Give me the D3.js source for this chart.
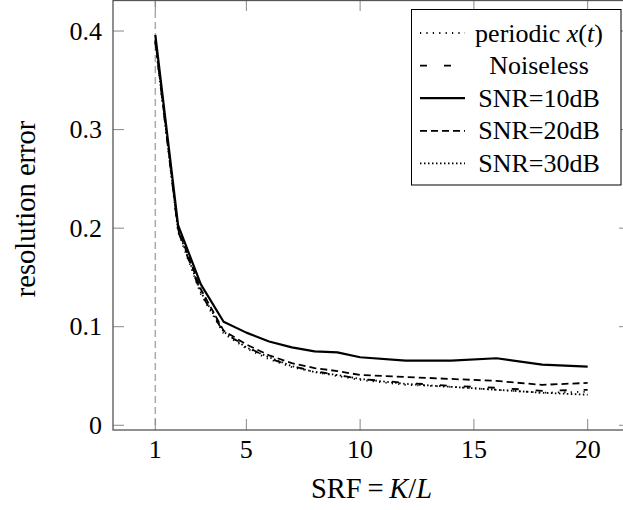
<!DOCTYPE html>
<html>
<head>
<meta charset="utf-8">
<script src="https://cdn.jsdelivr.net/npm/d3@7"></script>
<style>
  body { margin: 0; background: #fff; }
</style>
</head>
<body>
<svg id="chart" width="623" height="510"></svg>
<script>
// SRF values where the curves were sampled
var srf = [1, 2, 3, 4, 5, 6, 7, 8, 9, 10, 12, 14, 16, 18, 20];

// resolution error for each setting
var periodic  = [0.388, 0.196, 0.133, 0.093, 0.078, 0.067, 0.059, 0.054, 0.050, 0.046, 0.041, 0.039, 0.036, 0.033, 0.034];
var noiseless = [0.389, 0.197, 0.134, 0.094, 0.080, 0.068, 0.060, 0.055, 0.051, 0.047, 0.043, 0.040, 0.038, 0.035, 0.036];
var snr10     = [0.396, 0.203, 0.143, 0.105, 0.094, 0.085, 0.079, 0.075, 0.074, 0.069, 0.0655, 0.0655, 0.068, 0.0615, 0.0595];
var snr20     = [0.391, 0.199, 0.138, 0.096, 0.082, 0.071, 0.063, 0.058, 0.055, 0.051, 0.049, 0.047, 0.045, 0.041, 0.043];
var snr30     = [0.390, 0.198, 0.135, 0.095, 0.079, 0.069, 0.060, 0.054, 0.051, 0.047, 0.042, 0.039, 0.036, 0.033, 0.031];

var xTicks = [1, 5, 10, 15, 20];
var yTicks = [0, 0.1, 0.2, 0.3, 0.4];

var series = [
  { name: "periodic", values: periodic,  dash: "1.2,5.2", width: 1.8 },
  { name: "Noiseless", values: noiseless, dash: "7,17",   width: 1.8 },
  { name: "SNR=10dB", values: snr10,     dash: null,      width: 2.2 },
  { name: "SNR=20dB", values: snr20,     dash: "7,4",     width: 1.8 },
  { name: "SNR=30dB", values: snr30,     dash: "1.5,2.5", width: 1.8 }
];

var margin = { top: 0, left: 113 };
var plotRight = 630, plotBottom = 430;
var fontSize = 26, labelSize = 28.5;
var serif = "'Liberation Serif'";

var svg = d3.select("svg#chart");

var x = d3.scaleLinear().domain([-0.86, 21.86]).range([margin.left, plotRight]);
var y = d3.scaleLinear().domain([-0.0048, 0.4315]).range([plotBottom, margin.top]);

// reference line at SRF = 1
svg.append("line")
  .attr("x1", x(1)).attr("x2", x(1))
  .attr("y1", y.range()[1]).attr("y2", y.range()[0])
  .attr("stroke", "#aaa")
  .attr("stroke-width", 1.5)
  .attr("stroke-dasharray", "7,4");

// inward ticks on all four sides
var tickLen = 11;
var ticks = svg.append("g").attr("stroke", "#888").attr("stroke-width", 1);
xTicks.forEach(function(t) {
  ticks.append("line").attr("x1", x(t)).attr("x2", x(t)).attr("y1", plotBottom).attr("y2", plotBottom - tickLen);
  ticks.append("line").attr("x1", x(t)).attr("x2", x(t)).attr("y1", 0).attr("y2", tickLen);
});
yTicks.forEach(function(t) {
  ticks.append("line").attr("x1", margin.left).attr("x2", margin.left + tickLen).attr("y1", y(t)).attr("y2", y(t));
  ticks.append("line").attr("x1", plotRight).attr("x2", plotRight - tickLen).attr("y1", y(t)).attr("y2", y(t));
});

// tick labels
svg.append("g")
  .selectAll("text")
  .data(xTicks)
  .join("text")
    .style("font-family", serif)
    .attr("font-size", fontSize)
    .attr("text-anchor", "middle")
    .attr("x", d => x(d))
    .attr("y", plotBottom + 28)
    .text(d => d);

svg.append("g")
  .selectAll("text")
  .data(yTicks)
  .join("text")
    .style("font-family", serif)
    .attr("font-size", fontSize)
    .attr("text-anchor", "end")
    .attr("x", margin.left - 11)
    .attr("y", d => y(d))
    .attr("dy", "0.33em")
    .text(d => d === 0 ? "0" : d.toFixed(1));

// curves
var line = d3.line()
  .x((d, i) => x(srf[i]))
  .y(d => y(d));

svg.append("g")
  .attr("fill", "none")
  .selectAll("path")
  .data(series)
  .join("path")
    .attr("d", d => line(d.values))
    .attr("stroke", "#000")
    .attr("stroke-width", d => d.width)
    .attr("stroke-dasharray", d => d.dash)
    .attr("stroke-linejoin", "round");

// frame
svg.append("rect")
  .attr("x", margin.left)
  .attr("y", 0.5)
  .attr("width", plotRight - margin.left)
  .attr("height", plotBottom - 0.5)
  .attr("fill", "none")
  .attr("stroke", "#555")
  .attr("stroke-width", 1.3);

// axis labels
svg.append("text")
  .style("font-family", serif)
  .attr("font-size", labelSize)
  .attr("text-anchor", "middle")
  .attr("transform", "translate(35,209) rotate(-90)")
  .text("resolution error");

var xl = svg.append("text")
  .style("font-family", serif)
  .attr("font-size", labelSize)
  .attr("text-anchor", "middle")
  .attr("x", (margin.left + plotRight) / 2)
  .attr("y", 498);
xl.append("tspan").text("SRF\u2009=\u2009");
xl.append("tspan").attr("font-style", "italic").text("K");
xl.append("tspan").text("/");
xl.append("tspan").attr("font-style", "italic").text("L");

// legend
var legend = svg.append("g");
legend.append("rect")
  .attr("x", 411.5).attr("y", 9.5)
  .attr("width", 209.5).attr("height", 175.5)
  .attr("fill", "#fff")
  .attr("stroke", "#000")
  .attr("stroke-width", 1);

var rows = legend.selectAll("g.row")
  .data(series)
  .join("g")
    .attr("class", "row")
    .attr("transform", (d, i) => "translate(0," + (33 + i * 32.6) + ")");

rows.append("line")
  .attr("x1", 420).attr("x2", 465)
  .attr("y1", 0).attr("y2", 0)
  .attr("stroke", "#000")
  .attr("stroke-width", d => d.width)
  .attr("stroke-dasharray", d => d.dash);

var labels = rows.append("text")
  .style("font-family", serif)
  .attr("x", 539)
  .attr("y", 0)
  .attr("dy", "0.33em")
  .attr("font-size", fontSize)
  .attr("text-anchor", "middle");

labels.each(function(d) {
  var t = d3.select(this);
  if (d.name === "periodic") {
    t.append("tspan").text("periodic ");
    t.append("tspan").attr("font-style", "italic").text("x");
    t.append("tspan").text("(");
    t.append("tspan").attr("font-style", "italic").text("t");
    t.append("tspan").text(")");
  } else {
    t.text(d.name);
  }
});
</script>
</body>
</html>
